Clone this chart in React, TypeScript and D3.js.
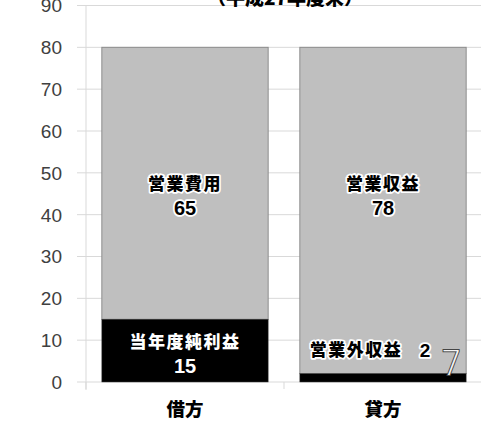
import React from "react";
import * as d3 from "d3";

const categories = ["借方", "貸方"];
const bottomLabels = ["当年度純利益", "営業外収益"];
const bottomValues = [15, 2];
const topLabels = ["営業費用", "営業収益"];
const topValues = [65, 78];
const yTicks = [0, 10, 20, 30, 40, 50, 60, 70, 80, 90];
const title = "（平成27年度末）";

const W = 481;
const H = 421;

export default function App() {
  const x = d3.scaleBand<string>().domain(categories).range([86, 482]).paddingInner(0.16).paddingOuter(0.08);
  const y = d3.scaleLinear().domain([0, 90]).range([382, 5.5]);
  const font = "'Noto Sans CJK JP', 'Noto Sans', sans-serif";
  const numFont = "'Liberation Sans', 'Noto Sans', sans-serif";
  const halo = { paintOrder: "stroke" as const, stroke: "#fff", strokeWidth: 3.5, strokeLinejoin: "round" as const };
  const step = x.step();
  const bounds = [86, 86 + step, 86 + 2 * step];
  const bw = x.bandwidth();
  return (
    <svg width={W} height={H} style={{ position: "absolute", left: 0, top: 0 }}>
      <rect width={W} height={H} fill="#fff" />
      {yTicks.map((t) => (
        <g key={t}>
          <line x1={77} x2={W} y1={y(t)} y2={y(t)} stroke="#d9d9d9" strokeWidth={1} />
          <text x={62} y={y(t)} dy="0.36em" textAnchor="end" fontFamily={numFont} fontSize={19} fill="#404040">{t}</text>
        </g>
      ))}
      <line x1={86} x2={86} y1={y(90)} y2={y(0) + 8} stroke="#d9d9d9" />
      {bounds.map((b, i) => (
        <line key={i} x1={b} x2={b} y1={y(0)} y2={y(0) + 7} stroke="#d9d9d9" />
      ))}
      {categories.map((c, i) => {
        const x0 = x(c)!;
        const b = bottomValues[i];
        const t = topValues[i];
        return (
          <g key={c}>
            <rect x={x0} y={y(b + t)} width={bw} height={y(b) - y(b + t)} fill="#bfbfbf" stroke="#8c8c8c" strokeWidth={1} />
            <rect x={x0} y={y(b)} width={bw} height={y(0) - y(b)} fill="#000" stroke="#404040" strokeWidth={0.5} />
            <text x={x0 + bw / 2} y={y(48) + 3} dy="0.35em" textAnchor="middle" fontFamily={font} fontSize={17} letterSpacing={1.5} fontWeight="900" fill="#000" style={halo}>{topLabels[i]}</text>
            <text x={x0 + bw / 2} y={y(42) + 2} dy="0.35em" textAnchor="middle" fontFamily={numFont} fontSize={20} fontWeight="bold" fill="#000" style={halo}>{t}</text>
            <text x={x0 + bw / 2} y={409.5} dy="0.35em" textAnchor="middle" fontFamily={font} fontSize={18.5} fontWeight="900" fill="#000">{c}</text>
          </g>
        );
      })}
      {/* bottom segment labels */}
      <text x={x(categories[0])! + bw / 2} y={y(bottomValues[0]) + 23} dy="0.35em" textAnchor="middle" fontFamily={font} fontSize={17} letterSpacing={1.5} fontWeight="900" fill="#fff">{bottomLabels[0]}</text>
      <text x={x(categories[0])! + bw / 2} y={y(bottomValues[0]) + 47} dy="0.35em" textAnchor="middle" fontFamily={numFont} fontSize={20} fontWeight="bold" fill="#fff">{bottomValues[0]}</text>
      <text x={x(categories[1])! + 10} y={350.5} dy="0.35em" fontFamily={font} fontSize={17} letterSpacing={1.5} fontWeight="900" fill="#000" style={halo}>{bottomLabels[1]}</text>
      <text x={x(categories[1])! + 120} y={350.5} dy="0.35em" fontFamily={numFont} fontSize={19} fontWeight="bold" fill="#000" style={halo}>{bottomValues[1]}</text>
      <text x={x(categories[1])! + 141} y={375} fontFamily="'DejaVu Sans', sans-serif" fontSize={34} fontWeight="200" fill="#f4f4f4" stroke="#444" strokeWidth={2} style={{ paintOrder: "stroke" }}>7</text>
      <text x={285} y={5} textAnchor="middle" fontFamily={font} fontSize={19} fontWeight="900" fill="#000">{title}</text>
    </svg>
  );
}
